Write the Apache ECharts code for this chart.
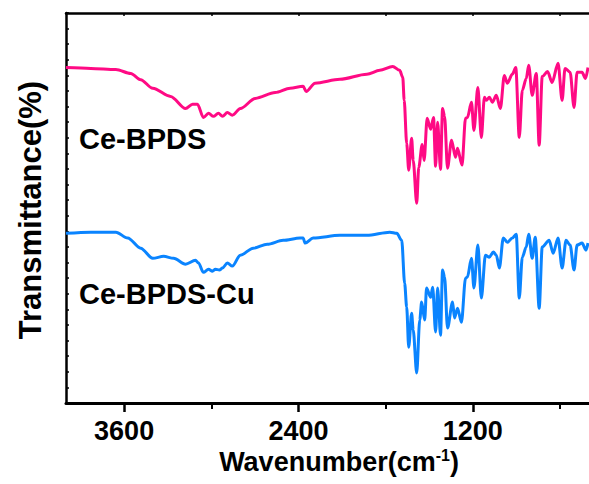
<!DOCTYPE html>
<html><head><meta charset="utf-8">
<script src="https://cdn.jsdelivr.net/npm/echarts@6/dist/echarts.min.js"></script>
<style>html,body{margin:0;padding:0;background:#fff}#c{width:589px;height:484px}</style>
</head><body><div id="c"></div>
<script>
const FONT = '"Liberation Sans", Arial, sans-serif';
// Wavenumber (cm-1) and transmittance (arbitrary, offset) values
const ceBpdsWn = [4000,3829,3657,3554,3486,3403,3280,3177,3129,3095,3054,3019,2985,2951,2923,2889,2855,2800,2697,2560,2457,2368,2347,2286,2114,1929,1840,1751,1703,1682,1672,1655,1641,1621,1610,1586,1572,1548,1535,1514,1490,1470,1456,1442,1422,1408,1394,1374,1346,1319,1305,1274,1250,1237,1209,1192,1165,1141,1120,1106,1086,1065,1038,1010,983,962,928,904,880,859,832,815,791,763,743,722,685,654,613,585,565,530,503,482,448,424,407];
const ceBpdsT = [86.0,85.8,85.5,84.5,82.9,80.7,78.6,75.5,76.6,76.6,73.2,74.3,73.5,74.3,73.5,74.5,73.8,75.5,78.1,79.6,80.7,81.2,79.9,82.0,83.0,84.3,85.3,86.3,85.3,83.5,77.6,66.6,59.7,67.9,62.2,51.2,60.4,66.3,62.2,73.0,70.2,73.2,60.7,72.0,59.9,75.5,73.5,60.2,67.4,63.0,65.3,61.0,73.0,73.2,77.1,69.9,80.9,68.1,78.4,77.6,78.4,77.1,78.9,75.5,84.0,82.0,84.3,86.0,68.1,80.2,83.2,86.6,78.9,84.5,66.1,83.7,85.0,82.2,87.1,77.6,85.8,84.8,75.8,84.8,84.8,83.2,86.0];
const ceBpdsCuWn = [4000,3829,3657,3575,3486,3403,3328,3259,3177,3109,3088,3054,3019,2992,2971,2944,2923,2889,2855,2800,2711,2615,2505,2389,2368,2354,2299,2114,1929,1771,1723,1689,1669,1655,1641,1621,1610,1586,1565,1552,1531,1518,1490,1476,1456,1442,1422,1408,1394,1374,1339,1326,1305,1278,1250,1237,1209,1192,1165,1141,1113,1086,1058,1038,1017,990,962,928,901,880,859,832,815,791,770,743,722,674,647,613,585,558,530,503,482,448,420,407];
const ceBpdsCuT = [43.5,43.8,43.8,42.3,39.7,37.1,37.6,37.1,35.6,36.6,35.9,33.5,34.3,33.8,34.3,34.1,34.6,35.9,35.1,37.9,39.7,40.7,41.7,42.3,42.3,41.0,42.3,43.0,43.0,43.8,43.5,41.7,30.7,24.6,14.3,23.0,18.7,7.7,21.3,25.9,21.3,29.5,27.1,29.7,18.2,29.5,17.4,34.1,32.3,19.2,25.9,21.8,24.3,20.7,32.0,32.3,37.1,29.5,40.5,26.9,37.9,37.4,38.7,37.9,34.6,42.3,41.2,42.3,43.3,26.9,37.4,40.0,43.3,37.1,42.5,24.3,40.0,41.7,38.4,42.3,34.6,41.7,40.5,34.1,40.5,41.0,39.2,41.0];
const majorTicks = [3600, 2400, 1200];
const minorTicks = [3000, 1800, 600];
const allTicks = [3600, 3000, 2400, 1800, 1200, 600];
const seriesNames = ['Ce-BPDS', 'Ce-BPDS-Cu'];
const colors = ['#ff0a84', '#0a84ff'];

const pair = (xs, ys) => xs.map((x, i) => [x, ys[i]]);
const chart = echarts.init(document.getElementById('c'), null, {renderer: 'svg'});
const baseX = {type: 'value', min: 400, max: 4000, inverse: true, splitLine: {show: false}};
chart.setOption({
  animation: false,
  backgroundColor: '#fff',
  grid: {left: 66, right: -1, top: 13, bottom: 81},
  xAxis: [
    Object.assign({}, baseX, {position: 'bottom',
      axisLine: {show: true, lineStyle: {color: '#000', width: 3}},
      axisTick: {show: true, inside: false, length: 9, lineStyle: {color: '#000', width: 2.5}, customValues: majorTicks},
      axisLabel: {show: true, customValues: majorTicks, formatter: v => String(v), margin: 14, color: '#000', fontSize: 27, fontWeight: 'bold', fontFamily: FONT}}),
    Object.assign({}, baseX, {position: 'bottom',
      axisLine: {show: false},
      axisTick: {show: true, inside: false, length: 6, lineStyle: {color: '#000', width: 2}, customValues: minorTicks},
      axisLabel: {show: false}}),
    Object.assign({}, baseX, {position: 'top',
      axisLine: {show: true, lineStyle: {color: '#000', width: 2.5}},
      axisTick: {show: true, inside: true, length: 3, lineStyle: {color: '#000', width: 1.5}, customValues: allTicks},
      axisLabel: {show: false}})
  ],
  yAxis: {type: 'value', min: 0, max: 100, interval: 4, splitLine: {show: false},
    axisLine: {show: true, onZero: false, lineStyle: {color: '#000', width: 2.5}},
    axisTick: {show: true, inside: true, length: 3, lineStyle: {color: '#000', width: 1.5}},
    axisLabel: {show: false}},
  series: [
    {name: seriesNames[0], type: 'line', xAxisIndex: 0, data: pair(ceBpdsWn, ceBpdsT), showSymbol: false, smooth: 0.3, smoothMonotone: 'x', lineStyle: {color: colors[0], width: 3}},
    {name: seriesNames[1], type: 'line', xAxisIndex: 0, data: pair(ceBpdsCuWn, ceBpdsCuT), showSymbol: false, smooth: 0.3, smoothMonotone: 'x', lineStyle: {color: colors[1], width: 3}}
  ],
  graphic: [
    {type: 'text', left: 79, top: 124, style: {text: seriesNames[0], fill: '#000', font: 'bold 29px ' + FONT}},
    {type: 'text', left: 79, top: 279, style: {text: seriesNames[1], fill: '#000', font: 'bold 29px ' + FONT}},
    {type: 'text', x: 30, y: 210, rotation: Math.PI / 2,
      style: {text: 'Transmittance(%)', fill: '#000', font: 'bold 31px ' + FONT, align: 'center', verticalAlign: 'middle'}},
    {type: 'text', x: 339, y: 462,
      style: {text: '{a|Wavenumber(cm}{s|-1}{a|)}', align: 'center', verticalAlign: 'middle',
        rich: {a: {fill: '#000', fontSize: 27, fontWeight: 'bold', fontFamily: FONT, lineHeight: 30},
               s: {fill: '#000', fontSize: 16, fontWeight: 'bold', fontFamily: FONT, verticalAlign: 'top', lineHeight: 30, padding: [0, 0, 12, 0]}}}}
  ]
});
</script></body></html>
